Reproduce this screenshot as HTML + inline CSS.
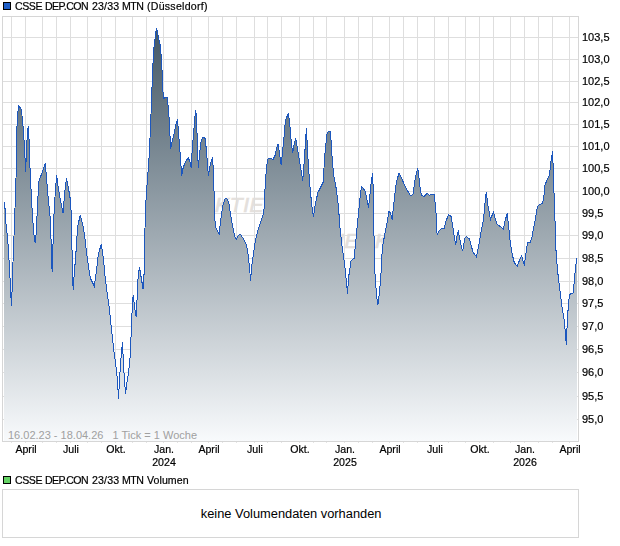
<!DOCTYPE html><html><head><meta charset="utf-8"><style>
html,body{margin:0;padding:0;background:#fff;width:620px;height:546px;overflow:hidden;position:relative}
.t{position:absolute;font-family:"Liberation Sans",sans-serif;color:#000;white-space:nowrap;line-height:1}
.g{will-change:transform;-webkit-text-stroke:0.2px #000}
</style></head><body>
<svg width="620" height="546" viewBox="0 0 620 546" style="position:absolute;left:0;top:0" shape-rendering="crispEdges"><defs><linearGradient id="g" gradientUnits="userSpaceOnUse" x1="0" y1="28" x2="0" y2="441"><stop offset="0" stop-color="#445866"/><stop offset="1" stop-color="#F8FAFC"/></linearGradient></defs><rect x="3.5" y="2.5" width="7" height="7" fill="#1F5FC8" stroke="#000" stroke-width="1"/><rect x="3.5" y="476.5" width="7" height="7" fill="#64D264" stroke="#000" stroke-width="1"/><rect x="2" y="16" width="577" height="426" fill="#FFFFFF"/><g shape-rendering="auto" font-family="Liberation Sans" font-style="italic" font-size="21" letter-spacing="0.6" fill="#E4E0DC" stroke="#E4E0DC" stroke-width="0.7"><text x="200.5" y="211.7">AKTIEN</text><text x="313" y="248.4">CHECK</text></g><path d="M11.5,17V441M25.5,17V441M42.5,17V441M56.5,17V441M70.5,17V441M87.5,17V441M101.5,17V441M115.5,17V441M132.5,17V441M146.5,17V441M163.5,17V441M177.5,17V441M191.5,17V441M208.5,17V441M222.5,17V441M236.5,17V441M254.5,17V441M267.5,17V441M281.5,17V441M299.5,17V441M313.5,17V441M326.5,17V441M344.5,17V441M358.5,17V441M372.5,17V441M389.5,17V441M403.5,17V441M417.5,17V441M434.5,17V441M448.5,17V441M465.5,17V441M479.5,17V441M493.5,17V441M510.5,17V441M524.5,17V441M538.5,17V441M552.5,17V441M569.5,17V441M3,37.5H578M3,59.5H578M3,81.5H578M3,102.5H578M3,124.5H578M3,146.5H578M3,168.5H578M3,191.5H578M3,213.5H578M3,235.5H578M3,258.5H578M3,281.5H578M3,303.5H578M3,326.5H578M3,349.5H578M3,372.5H578M3,396.5H578M3,419.5H578" stroke="#DEDEDE" stroke-width="1" fill="none"/><g shape-rendering="crispEdges"><polygon points="4.3,441 4.3,202 4.6,208 5.4,208.5 5.6,220 7.7,239 9.2,263 10.3,283 11.4,306 12.1,290 13,262 14,236 15,208 16,178 17.1,121 18.5,106 21.2,109 22.2,117 23.6,133 24.6,149 25.6,172 26.8,143 28.2,126 29.2,142 30.2,174 32.5,217 34,235 35.2,243 36.3,232 37.4,208 38.7,182 45.3,163.5 46.7,180 48.4,200 50.1,217 51.2,243 52.1,272 53.2,239 54.3,206 55.5,190 56.6,175 58,186 60,198 63,213 65,190 66.5,178.5 68.1,186 70.1,198 71.1,211 71.7,240.6 72.7,270 73.1,290 74.1,276 75.8,254.7 77.6,226.5 80.2,215.4 83.2,226.5 85.2,240.6 87.3,258.8 90.3,278 94.3,286 96.3,272 98.3,254.7 101.3,243.7 103.4,258.8 105.4,280 109,306 111.8,332 113.6,349 115.4,361.5 116.6,371.6 117.7,383.7 118.5,398.8 119.5,379.7 120.5,365.5 121.5,351.4 122.5,342.4 123.5,365.5 124.5,379.7 125.5,393.8 127.1,381.7 128.7,371.6 130.1,357.5 131.2,333.3 132.2,309 133.2,295 134.6,307 136.2,317 138.1,277 139.5,267 141.1,277 143.1,289 144.1,273 144.7,240 145.5,208 146,200 147,185 148,172 149,158 150,138 151,114 151.9,90 152.9,65.3 153.9,48.4 154.9,39.6 155.9,31.6 156.5,28.5 157.7,33 158.7,39 160.1,44 161.2,56 162.2,73.4 162.8,90.5 163.8,98.6 165.2,97.6 167.2,97.2 168.2,106.7 169.6,124.8 170.5,149.4 172.1,142 174.5,132 176.1,124 177.5,119 179.1,140 180.1,153.4 181.2,168.5 181.8,175.6 183.2,167.5 185.2,162.5 188.2,157.4 190.2,162.5 191.2,167.5 192.3,148.4 193.9,130 194.7,119 195.7,110 196.7,120 197.3,144 198.3,167.5 199.7,152.4 201.3,140 202.9,137.3 205.3,138.3 206.7,154.4 208.4,175.6 210,166.5 211.4,160.5 212.4,157.4 213.4,169.5 214,190.7 214.5,214 215.5,227.4 217.1,230.4 219.1,234.4 220.7,220.3 222.7,206.2 225.1,199.1 226.8,198.5 228.8,202.2 230.2,212.2 232.2,224.3 234.8,236.4 236.2,239.4 238.2,235.4 240.3,234.4 243.3,238.4 246.3,244.5 247.7,250.5 248.7,260.6 249.7,268.7 250.5,280.7 251.7,266.6 253.4,254.6 255.4,240.4 257.4,232.4 260.4,222.3 263.4,214.3 264.6,204 265.1,185.6 266.5,167.5 267.7,159 270.1,158.4 273.1,159.4 275.1,155.4 276.5,148.3 278.1,144.3 279.8,155.4 281.2,165.4 282.6,150.3 283.8,139.3 284.8,127.2 285.8,119.1 288.2,114 289.2,119.1 290.2,129.2 291.2,141.3 292.7,153.4 294.3,143.3 295.7,138.2 297.3,147.3 299.3,159.4 301.3,171.5 302.7,180.6 303.9,165.4 305.3,145.3 306.4,128.2 307.8,155.4 309.4,179.6 310.8,195.7 312.8,213.8 313.6,215.6 315.6,202.5 318,192.4 321.1,186.4 323.1,182.3 324.1,166.2 325.1,152 325.7,146.5 326.7,134.4 328.1,132 330.1,131.4 331.1,140.4 332.1,158 333.8,176.3 336.2,188.4 337.8,200.5 339.2,216.6 340,228.2 342.1,246.3 344.1,260.5 345.5,272.5 346.7,284.6 347.5,293.7 348.7,276.6 351.1,260.5 354.1,258.4 355.1,248.4 356.8,230.2 358.6,212.1 359.3,204.5 361.4,186.4 364.8,190.4 366.4,196.4 368.4,207.6 370,194.5 371,184.4 372.5,173.3 373.3,190 373.8,226 374.8,271 375.5,280 376.5,295 377.6,303.8 378.4,303 379.5,290 380.8,279 381.6,258 382.9,245 384.8,234 386.9,223.5 389,211.5 390.4,213 392.2,219.5 393.6,205 396.2,183.6 398.9,173 401.3,177.4 404.3,184.4 407.3,190.4 410.3,195.5 413,194.5 415,180.4 416.4,173.3 417.8,168.3 419,178.4 420.4,190.4 421.5,195.3 424,196.3 427.5,193.3 429.1,195.3 431.7,194.3 434.1,194.3 435.1,202.4 436.1,214.5 437.1,234.7 439.1,230.6 441.2,228.6 444.2,228.6 446.2,220.5 448.6,214.9 451.2,216.5 452.8,226.6 454.3,236.7 455.7,244.7 456.9,236.7 458.3,230.6 459.7,238.7 461.3,246.7 462.7,250.7 464.7,238.7 466.3,236.7 469.4,238.7 471.4,246.7 473.4,252.8 476.3,256.5 478.6,247 481,232 483.5,220 484.5,208 486.3,192 488.1,206.3 490.5,219.4 492.1,215.3 493.5,212.3 495.1,218.4 497.2,224.4 500.2,226.4 503.2,229.4 505.2,220.4 507.2,213.3 508.6,226.4 510.3,242.5 512.3,254.7 514.3,262.7 517.3,266.3 519.3,260.7 521.7,255.6 523.4,262.7 524.4,264.7 526.4,250.6 527.5,243 530,242.8 532.1,236.7 533.5,228.7 535.1,220.6 536.7,210.5 538.1,205.5 540.1,204.5 542.7,203.5 544.1,194.4 545.1,184.4 546.6,181.3 549.2,175.3 550.2,169.2 550.8,162.2 551.8,156.1 552.6,151.1 553.2,168.2 554.2,198.4 555.2,226.6 556.2,256 558.2,276.3 560.2,292.4 562.2,308.5 564.3,320.6 565.3,332.7 566.3,344.8 567.3,320.6 568.3,306.5 569.3,295.4 571.3,293.4 573.3,292.8 574.3,280.3 575.3,270.2 576.7,258.1 576.7,441" fill="url(#g)"/><polyline points="4.3,202 4.6,208 5.4,208.5 5.6,220 7.7,239 9.2,263 10.3,283 11.4,306 12.1,290 13,262 14,236 15,208 16,178 17.1,121 18.5,106 21.2,109 22.2,117 23.6,133 24.6,149 25.6,172 26.8,143 28.2,126 29.2,142 30.2,174 32.5,217 34,235 35.2,243 36.3,232 37.4,208 38.7,182 45.3,163.5 46.7,180 48.4,200 50.1,217 51.2,243 52.1,272 53.2,239 54.3,206 55.5,190 56.6,175 58,186 60,198 63,213 65,190 66.5,178.5 68.1,186 70.1,198 71.1,211 71.7,240.6 72.7,270 73.1,290 74.1,276 75.8,254.7 77.6,226.5 80.2,215.4 83.2,226.5 85.2,240.6 87.3,258.8 90.3,278 94.3,286 96.3,272 98.3,254.7 101.3,243.7 103.4,258.8 105.4,280 109,306 111.8,332 113.6,349 115.4,361.5 116.6,371.6 117.7,383.7 118.5,398.8 119.5,379.7 120.5,365.5 121.5,351.4 122.5,342.4 123.5,365.5 124.5,379.7 125.5,393.8 127.1,381.7 128.7,371.6 130.1,357.5 131.2,333.3 132.2,309 133.2,295 134.6,307 136.2,317 138.1,277 139.5,267 141.1,277 143.1,289 144.1,273 144.7,240 145.5,208 146,200 147,185 148,172 149,158 150,138 151,114 151.9,90 152.9,65.3 153.9,48.4 154.9,39.6 155.9,31.6 156.5,28.5 157.7,33 158.7,39 160.1,44 161.2,56 162.2,73.4 162.8,90.5 163.8,98.6 165.2,97.6 167.2,97.2 168.2,106.7 169.6,124.8 170.5,149.4 172.1,142 174.5,132 176.1,124 177.5,119 179.1,140 180.1,153.4 181.2,168.5 181.8,175.6 183.2,167.5 185.2,162.5 188.2,157.4 190.2,162.5 191.2,167.5 192.3,148.4 193.9,130 194.7,119 195.7,110 196.7,120 197.3,144 198.3,167.5 199.7,152.4 201.3,140 202.9,137.3 205.3,138.3 206.7,154.4 208.4,175.6 210,166.5 211.4,160.5 212.4,157.4 213.4,169.5 214,190.7 214.5,214 215.5,227.4 217.1,230.4 219.1,234.4 220.7,220.3 222.7,206.2 225.1,199.1 226.8,198.5 228.8,202.2 230.2,212.2 232.2,224.3 234.8,236.4 236.2,239.4 238.2,235.4 240.3,234.4 243.3,238.4 246.3,244.5 247.7,250.5 248.7,260.6 249.7,268.7 250.5,280.7 251.7,266.6 253.4,254.6 255.4,240.4 257.4,232.4 260.4,222.3 263.4,214.3 264.6,204 265.1,185.6 266.5,167.5 267.7,159 270.1,158.4 273.1,159.4 275.1,155.4 276.5,148.3 278.1,144.3 279.8,155.4 281.2,165.4 282.6,150.3 283.8,139.3 284.8,127.2 285.8,119.1 288.2,114 289.2,119.1 290.2,129.2 291.2,141.3 292.7,153.4 294.3,143.3 295.7,138.2 297.3,147.3 299.3,159.4 301.3,171.5 302.7,180.6 303.9,165.4 305.3,145.3 306.4,128.2 307.8,155.4 309.4,179.6 310.8,195.7 312.8,213.8 313.6,215.6 315.6,202.5 318,192.4 321.1,186.4 323.1,182.3 324.1,166.2 325.1,152 325.7,146.5 326.7,134.4 328.1,132 330.1,131.4 331.1,140.4 332.1,158 333.8,176.3 336.2,188.4 337.8,200.5 339.2,216.6 340,228.2 342.1,246.3 344.1,260.5 345.5,272.5 346.7,284.6 347.5,293.7 348.7,276.6 351.1,260.5 354.1,258.4 355.1,248.4 356.8,230.2 358.6,212.1 359.3,204.5 361.4,186.4 364.8,190.4 366.4,196.4 368.4,207.6 370,194.5 371,184.4 372.5,173.3 373.3,190 373.8,226 374.8,271 375.5,280 376.5,295 377.6,303.8 378.4,303 379.5,290 380.8,279 381.6,258 382.9,245 384.8,234 386.9,223.5 389,211.5 390.4,213 392.2,219.5 393.6,205 396.2,183.6 398.9,173 401.3,177.4 404.3,184.4 407.3,190.4 410.3,195.5 413,194.5 415,180.4 416.4,173.3 417.8,168.3 419,178.4 420.4,190.4 421.5,195.3 424,196.3 427.5,193.3 429.1,195.3 431.7,194.3 434.1,194.3 435.1,202.4 436.1,214.5 437.1,234.7 439.1,230.6 441.2,228.6 444.2,228.6 446.2,220.5 448.6,214.9 451.2,216.5 452.8,226.6 454.3,236.7 455.7,244.7 456.9,236.7 458.3,230.6 459.7,238.7 461.3,246.7 462.7,250.7 464.7,238.7 466.3,236.7 469.4,238.7 471.4,246.7 473.4,252.8 476.3,256.5 478.6,247 481,232 483.5,220 484.5,208 486.3,192 488.1,206.3 490.5,219.4 492.1,215.3 493.5,212.3 495.1,218.4 497.2,224.4 500.2,226.4 503.2,229.4 505.2,220.4 507.2,213.3 508.6,226.4 510.3,242.5 512.3,254.7 514.3,262.7 517.3,266.3 519.3,260.7 521.7,255.6 523.4,262.7 524.4,264.7 526.4,250.6 527.5,243 530,242.8 532.1,236.7 533.5,228.7 535.1,220.6 536.7,210.5 538.1,205.5 540.1,204.5 542.7,203.5 544.1,194.4 545.1,184.4 546.6,181.3 549.2,175.3 550.2,169.2 550.8,162.2 551.8,156.1 552.6,151.1 553.2,168.2 554.2,198.4 555.2,226.6 556.2,256 558.2,276.3 560.2,292.4 562.2,308.5 564.3,320.6 565.3,332.7 566.3,344.8 567.3,320.6 568.3,306.5 569.3,295.4 571.3,293.4 573.3,292.8 574.3,280.3 575.3,270.2 576.7,258.1" fill="none" stroke="#1C57BE" stroke-width="1" stroke-linejoin="miter"/></g><rect x="2.5" y="16.5" width="576" height="425" fill="none" stroke="#D6D6D6" stroke-width="1"/><path d="M11.5,442V443M25.5,442V443M42.5,442V443M56.5,442V443M70.5,442V443M87.5,442V443M101.5,442V443M115.5,442V443M132.5,442V443M146.5,442V443M163.5,442V443M177.5,442V443M191.5,442V443M208.5,442V443M222.5,442V443M236.5,442V443M254.5,442V443M267.5,442V443M281.5,442V443M299.5,442V443M313.5,442V443M326.5,442V443M344.5,442V443M358.5,442V443M372.5,442V443M389.5,442V443M403.5,442V443M417.5,442V443M434.5,442V443M448.5,442V443M465.5,442V443M479.5,442V443M493.5,442V443M510.5,442V443M524.5,442V443M538.5,442V443M552.5,442V443M569.5,442V443" stroke="#E4E4E4" stroke-width="1"/><rect x="2.5" y="489.5" width="576" height="48" fill="#fff" stroke="#D6D6D6" stroke-width="1"/></svg>
<div class="t g" style="left:14.83px;top:0.83px;font-size:10.6px;letter-spacing:-0.45px;">CSSE</div>
<div class="t g" style="left:45.09px;top:0.83px;font-size:10.6px;letter-spacing:-0.55px;">DEP.CON</div>
<div class="t g" style="left:91.95px;top:0.83px;font-size:10.6px;letter-spacing:0.15px;">23/33</div>
<div class="t g" style="left:121.69px;top:0.83px;font-size:10.6px;letter-spacing:-0.55px;">MTN</div>
<div class="t g" style="left:146.64px;top:0.83px;font-size:10.6px;letter-spacing:0.25px;">(Düsseldorf)</div>
<div class="t g" style="left:581.7px;top:31.89px;font-size:11px;">103,5</div>
<div class="t g" style="left:581.7px;top:53.89px;font-size:11px;">103,0</div>
<div class="t g" style="left:581.7px;top:75.89px;font-size:11px;">102,5</div>
<div class="t g" style="left:581.7px;top:96.89px;font-size:11px;">102,0</div>
<div class="t g" style="left:581.7px;top:118.89px;font-size:11px;">101,5</div>
<div class="t g" style="left:581.7px;top:140.89px;font-size:11px;">101,0</div>
<div class="t g" style="left:581.7px;top:162.89px;font-size:11px;">100,5</div>
<div class="t g" style="left:581.7px;top:185.89px;font-size:11px;">100,0</div>
<div class="t g" style="left:581.7px;top:207.89px;font-size:11px;">99,5</div>
<div class="t g" style="left:581.7px;top:229.89px;font-size:11px;">99,0</div>
<div class="t g" style="left:581.7px;top:252.89px;font-size:11px;">98,5</div>
<div class="t g" style="left:581.7px;top:275.89px;font-size:11px;">98,0</div>
<div class="t g" style="left:581.7px;top:297.89px;font-size:11px;">97,5</div>
<div class="t g" style="left:581.7px;top:320.89px;font-size:11px;">97,0</div>
<div class="t g" style="left:581.7px;top:343.89px;font-size:11px;">96,5</div>
<div class="t g" style="left:581.7px;top:366.89px;font-size:11px;">96,0</div>
<div class="t g" style="left:581.7px;top:390.89px;font-size:11px;">95,5</div>
<div class="t g" style="left:581.7px;top:413.89px;font-size:11px;">95,0</div>
<div class="t g" style="left:-4.5px;width:60px;text-align:center;top:443.63px;font-size:10.6px;">April</div>
<div class="t g" style="left:40.5px;width:60px;text-align:center;top:443.63px;font-size:10.6px;">Juli</div>
<div class="t g" style="left:85.5px;width:60px;text-align:center;top:443.63px;font-size:10.6px;">Okt.</div>
<div class="t g" style="left:133.5px;width:60px;text-align:center;top:443.63px;font-size:10.6px;">Jan.</div>
<div class="t g" style="left:133.5px;width:60px;text-align:center;top:457.43px;font-size:10.6px;">2024</div>
<div class="t g" style="left:178.5px;width:60px;text-align:center;top:443.63px;font-size:10.6px;">April</div>
<div class="t g" style="left:224.5px;width:60px;text-align:center;top:443.63px;font-size:10.6px;">Juli</div>
<div class="t g" style="left:269.5px;width:60px;text-align:center;top:443.63px;font-size:10.6px;">Okt.</div>
<div class="t g" style="left:314.5px;width:60px;text-align:center;top:443.63px;font-size:10.6px;">Jan.</div>
<div class="t g" style="left:314.5px;width:60px;text-align:center;top:457.43px;font-size:10.6px;">2025</div>
<div class="t g" style="left:359.5px;width:60px;text-align:center;top:443.63px;font-size:10.6px;">April</div>
<div class="t g" style="left:404.5px;width:60px;text-align:center;top:443.63px;font-size:10.6px;">Juli</div>
<div class="t g" style="left:449.5px;width:60px;text-align:center;top:443.63px;font-size:10.6px;">Okt.</div>
<div class="t g" style="left:494.5px;width:60px;text-align:center;top:443.63px;font-size:10.6px;">Jan.</div>
<div class="t g" style="left:494.5px;width:60px;text-align:center;top:457.43px;font-size:10.6px;">2026</div>
<div class="t g" style="left:539.5px;width:60px;text-align:center;top:443.63px;font-size:10.6px;">April</div>
<div class="t" style="left:8px;top:430.19px;font-size:11px;color:#A0A0A0;">16.02.23 - 18.04.26 &nbsp; 1 Tick = 1 Woche</div>
<div class="t g" style="left:14.83px;top:474.63px;font-size:10.6px;letter-spacing:-0.45px;">CSSE</div>
<div class="t g" style="left:45.09px;top:474.63px;font-size:10.6px;letter-spacing:-0.55px;">DEP.CON</div>
<div class="t g" style="left:91.95px;top:474.63px;font-size:10.6px;letter-spacing:0.15px;">23/33</div>
<div class="t g" style="left:121.69px;top:474.63px;font-size:10.6px;letter-spacing:-0.55px;">MTN</div>
<div class="t g" style="left:147.1px;top:474.63px;font-size:10.6px;letter-spacing:0.05px;">Volumen</div>
<div class="t" style="left:200.8px;top:508.02px;font-size:12.85px;">keine Volumendaten vorhanden</div>
</body></html>
